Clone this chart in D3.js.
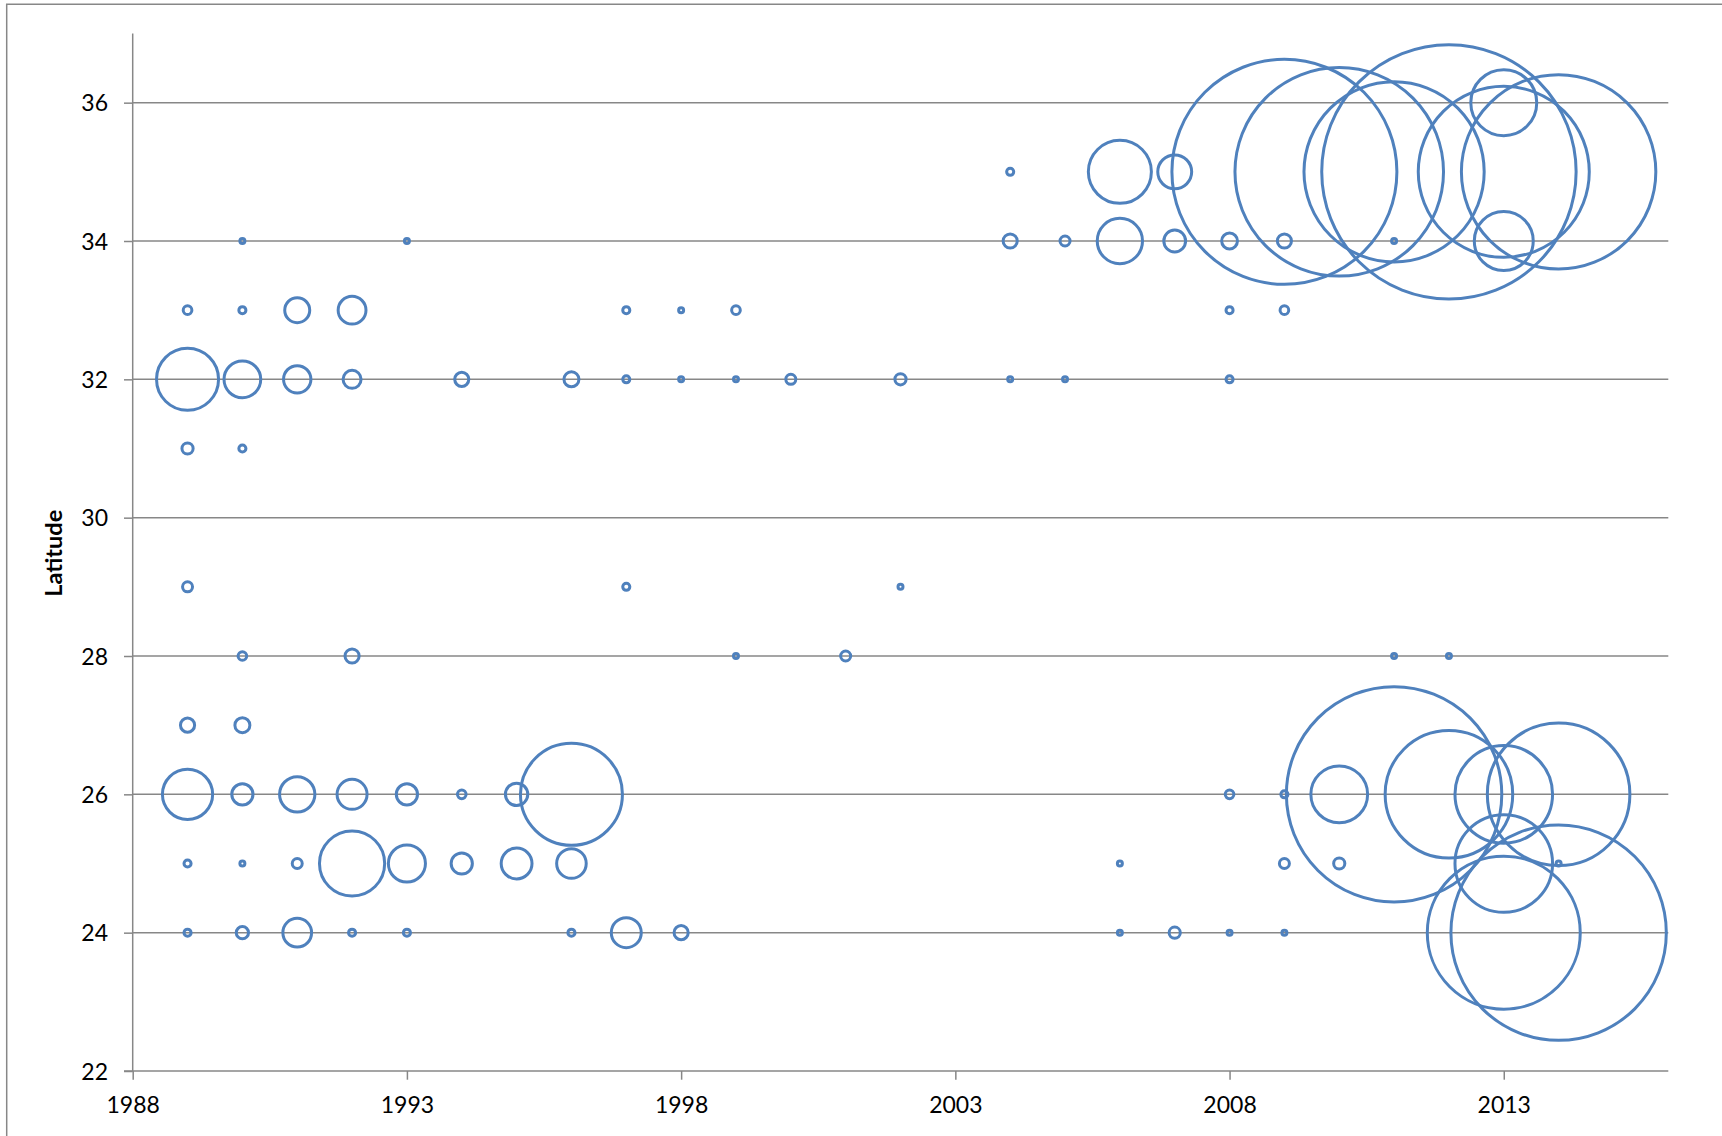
<!DOCTYPE html>
<html>
<head>
<meta charset="utf-8">
<script src="https://cdn.jsdelivr.net/npm/d3@7"></script>
<style>
  html, body { margin: 0; padding: 0; background: #fff; }
  svg { display: block; }
  text { font-family: Lato, "Open Sans", sans-serif; fill: #000; }
</style>
</head>
<body>
<svg id="chart" width="1722" height="1136"></svg>
<script>
// ---- data ----
const years = [
  2013,
  2004, 2006, 2007, 2009, 2010, 2011, 2012, 2013, 2014,
  1990, 1993, 2004, 2005, 2006, 2007, 2008, 2009, 2011, 2013,
  1989, 1990, 1991, 1992, 1997, 1998, 1999, 2008, 2009,
  1989, 1990, 1991, 1992, 1994, 1996, 1997, 1998, 1999, 2000, 2002, 2004, 2005, 2008,
  1989, 1990,
  1989, 1997, 2002,
  1990, 1992, 1999, 2001, 2011, 2012,
  1989, 1990,
  1989, 1990, 1991, 1992, 1993, 1994, 1995, 1996, 2008, 2009, 2010, 2011, 2012, 2013, 2014,
  1989, 1990, 1991, 1992, 1993, 1994, 1995, 1996, 2006, 2009, 2010, 2013, 2014,
  1989, 1990, 1991, 1992, 1993, 1996, 1997, 1998, 2006, 2007, 2008, 2009, 2013, 2014
];
const latitudes = [
  36,
  35, 35, 35, 35, 35, 35, 35, 35, 35,
  34, 34, 34, 34, 34, 34, 34, 34, 34, 34,
  33, 33, 33, 33, 33, 33, 33, 33, 33,
  32, 32, 32, 32, 32, 32, 32, 32, 32, 32, 32, 32, 32, 32,
  31, 31,
  29, 29, 29,
  28, 28, 28, 28, 28, 28,
  27, 27,
  26, 26, 26, 26, 26, 26, 26, 26, 26, 26, 26, 26, 26, 26, 26,
  25, 25, 25, 25, 25, 25, 25, 25, 25, 25, 25, 25, 25,
  24, 24, 24, 24, 24, 24, 24, 24, 24, 24, 24, 24, 24, 24
];
const counts = [
  174,
  2, 159, 46, 2025, 1740, 1299, 2589, 1170, 1512,
  1, 1, 8, 4, 82, 19, 10, 8, 1, 139,
  3, 2, 25, 31, 2, 1, 3, 2, 3,
  154, 54, 30, 13, 8, 9, 2, 1, 1, 4, 5, 1, 1, 2,
  5, 2,
  4, 2, 1,
  3, 8, 1, 4, 1, 1,
  8, 9,
  101, 18, 50, 36, 18, 3, 20, 416, 3, 2, 129, 1856, 651, 381, 813,
  2, 1, 4, 170, 55, 18, 38, 35, 1, 4, 5, 381, 1,
  2, 6, 33, 2, 2, 2, 36, 8, 1, 5, 1, 1, 936, 1856
];
const xTicks = [1988, 1993, 1998, 2003, 2008, 2013];
const yTicks = [22, 24, 26, 28, 30, 32, 34, 36];
const xDomain = [1988, 2016];
const yDomain = [22, 37];
const yTitle = "Latitude";

// ---- layout ----
const plot = { left: 132.7, right: 1668.3, top: 33.5, bottom: 1071 };
const gridColor = "#878787";
const bubbleColor = "#4F81BD";

const svg = d3.select("#chart");

// chart-area border (top and left visible)
svg.append("path")
  .attr("d", "M6.7,1140V4.3H1730")
  .attr("fill", "none")
  .attr("stroke", gridColor)
  .attr("stroke-width", 1.5);

const x = d3.scaleLinear().domain(xDomain).range([plot.left, plot.right]);
const y = d3.scaleLinear().domain(yDomain).range([plot.bottom, plot.top]);
const r = d3.scaleSqrt().domain([0, d3.max(counts)]).range([0, 127.2]);

// gridlines
svg.append("g")
  .selectAll("line")
  .data(yTicks.filter(t => t !== yDomain[0]))
  .join("line")
  .attr("x1", plot.left).attr("x2", plot.right)
  .attr("y1", d => y(d)).attr("y2", d => y(d))
  .attr("stroke", gridColor).attr("stroke-width", 1.5);

// y axis
const yAxis = d3.axisLeft(y).tickValues(yTicks).tickSize(8.7).tickPadding(16).tickSizeOuter(0)
  .tickFormat(d3.format("d"));
const gy = svg.append("g").attr("transform", `translate(${plot.left},0)`).call(yAxis);
gy.select(".domain").attr("stroke", gridColor).attr("stroke-width", 1.5)
  .attr("d", `M0,${plot.top}V${plot.bottom}`);
gy.selectAll(".tick line").attr("stroke", gridColor).attr("stroke-width", 1.5);
gy.selectAll(".tick text")
  .style("font-family", "Lato, sans-serif").style("font-size", "23px").attr("fill", "#000")
  .attr("dy", "0.36em");

// x axis
const xAxis = d3.axisBottom(x).tickValues(xTicks).tickSize(8.7).tickPadding(16).tickSizeOuter(0)
  .tickFormat(d3.format("d"));
const gx = svg.append("g").attr("transform", `translate(0,${plot.bottom})`).call(xAxis);
gx.select(".domain").attr("stroke", gridColor).attr("stroke-width", 1.5)
  .attr("d", `M${plot.left - 8.7},0H${plot.right}`);
gx.selectAll(".tick line").attr("stroke", gridColor).attr("stroke-width", 1.5);
gx.selectAll(".tick text")
  .style("font-family", "Lato, sans-serif").style("font-size", "23px").attr("fill", "#000")
  .attr("dy", null).attr("y", 42.3);

// y title
svg.append("text")
  .attr("transform", `translate(61.7,${(y(29) + y(30)) / 2 + 1}) rotate(-90)`)
  .attr("text-anchor", "middle")
  .style("font-size", "23.5px").style("font-weight", "bold")
  .text(yTitle);

// bubbles
const data = years.map((yr, i) => ({ year: yr, lat: latitudes[i], count: counts[i] }));
svg.append("g")
  .selectAll("circle")
  .data(data)
  .join("circle")
  .attr("cx", d => x(d.year))
  .attr("cy", d => y(d.lat))
  .attr("r", d => r(d.count))
  .attr("fill", "none")
  .attr("stroke", bubbleColor)
  .attr("stroke-width", 3);
</script>
</body>
</html>
